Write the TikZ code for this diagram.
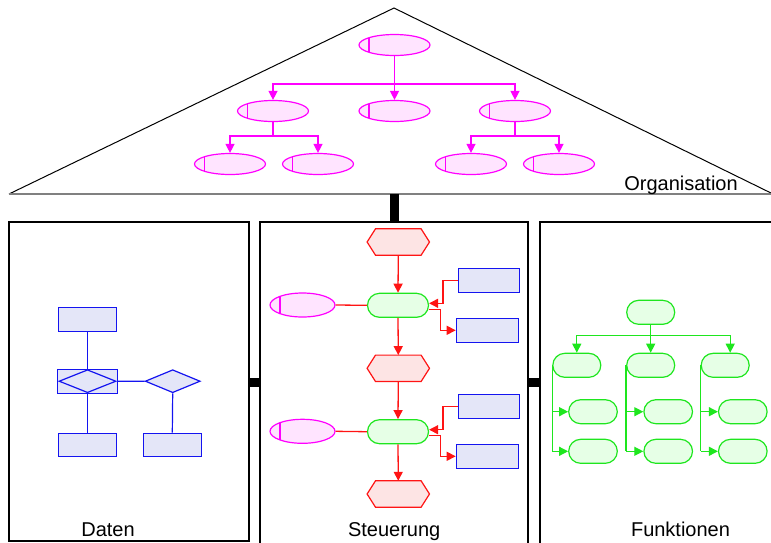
\documentclass[tikz,border=0pt]{standalone}
\usepackage{fontspec}
\setmainfont{Liberation Sans}
\usetikzlibrary{arrows.meta,shapes.geometric}
\definecolor{mag}{RGB}{255,0,255}
\definecolor{magfill}{RGB}{255,228,255}
\definecolor{bl}{RGB}{20,20,240}
\definecolor{blfill}{RGB}{228,230,248}
\definecolor{rd}{RGB}{255,20,20}
\definecolor{rdfill}{RGB}{253,228,228}
\definecolor{gr}{RGB}{30,230,30}
\definecolor{grfill}{RGB}{230,255,230}
\newcommand{\lab}{\fontsize{20pt}{24pt}\selectfont}
\begin{document}
\begin{tikzpicture}[x=1pt,y=-1pt,
  orgell/.style={ellipse, draw=mag, fill=magfill, line width=1.2pt, minimum width=71pt, minimum height=21pt, inner sep=0pt,
    path picture={\draw[mag,line width=1.4pt] ([xshift=10pt]path picture bounding box.north west) -- ([xshift=10pt]path picture bounding box.south west);}},
  orgline/.style={mag, line width=1.3pt},
  orgarr/.style={orgline, -{Triangle[length=9pt,width=9pt]}},
  datbox/.style={rectangle, draw=bl, fill=blfill, line width=1.2pt, minimum width=58pt, minimum height=24pt, inner sep=0pt},
  datdia/.style={diamond, draw=bl, fill=blfill, line width=1.2pt, minimum width=57pt, minimum height=23pt, inner sep=0pt},
  datline/.style={bl, line width=1.2pt},
  hexnode/.style={rectangle, minimum width=62pt, minimum height=26pt, inner sep=0pt},
  hexst/.style={draw=rd, fill=rdfill, line width=1.2pt},
  grbox/.style={rectangle, rounded corners=12pt, draw=gr, fill=grfill, line width=1.2pt, minimum width=48pt, minimum height=24pt, inner sep=0pt},
  rline/.style={rd, line width=1.3pt},
  rarr/.style={rline, -{Triangle[length=9pt,width=9pt]}},
  gline/.style={gr, line width=1.3pt},
  garr/.style={gline, -{Triangle[length=9pt,width=9pt]}},
  frame/.style={black, line width=1.5pt},
  lbl/.style={anchor=base, font=\lab, inner sep=0pt}]
\useasboundingbox (0,0) rectangle (771,542);
\clip (0,0) rectangle (771,542);

% ---------- Organisation triangle ----------
\draw[black, line width=1pt] (9,194) -- (394,8) -- (773,194);
\draw[gray, line width=2pt] (9,194) -- (773,194);
\node[lbl] (lorg) at (681,190) {Organisation};

\node[orgell] (o1) at (394.5,45) {};
\node[orgell] (o2a) at (273,111) {};
\node[orgell] (o2b) at (394.5,111) {};
\node[orgell] (o2c) at (515,111) {};
\node[orgell] (o3a) at (230,164) {};
\node[orgell] (o3b) at (318,164) {};
\node[orgell] (o3c) at (471,164) {};
\node[orgell] (o3d) at (559,164) {};

\coordinate (j1) at (394.5,84);
\draw[orgline] (o1.south) -- (j1);
\draw[orgarr] (j1) -| (o2a.north);
\draw[orgarr] (j1) -- (o2b.north);
\draw[orgarr] (j1) -| (o2c.north);
\coordinate (j2) at (273,136);
\draw[orgline] (o2a.south) -- (j2);
\draw[orgarr] (j2) -| (o3a.north);
\draw[orgarr] (j2) -| (o3b.north);
\coordinate (j3) at (515,136);
\draw[orgline] (o2c.south) -- (j3);
\draw[orgarr] (j3) -| (o3c.north);
\draw[orgarr] (j3) -| (o3d.north);

% ---------- frames and bars ----------
\draw[frame] (9,222) rectangle (249,541);
\draw[frame] (260,545) -- (260,222) -- (528,222) -- (528,545);
\draw[frame] (540,545) -- (540,222) -- (775,222);
\fill[black] (390,194) rectangle (399,222);
\fill[black] (249,377.5) rectangle (260,386.5);
\fill[black] (528,377.5) rectangle (540,386.5);

\node[lbl] (ldat) at (108,536.5) {Daten};
\node[lbl] (lst) at (394.2,536.5) {Steuerung};
\node[lbl] (lfn) at (680.5,536.5) {Funktionen};

% ---------- Daten ----------
\node[datbox] (d1) at (87.3,319.3) {};
\node[datbox, minimum width=60pt] (d2) at (87.3,381.3) {};
\node[datdia] (d2d) at (87.5,381.2) {};
\node[datdia, minimum width=55pt] (d3) at (172.7,381.2) {};
\node[datbox, minimum height=23pt] (d4) at (87.3,444.8) {};
\node[datbox, minimum height=23pt] (d5) at (172.3,444.8) {};
\draw[datline] (d1.south) -- (d2.north);
\draw[datline] (d2.south) -- (d4.north);
\draw[datline] (d2.east) -- (d3.west);
\draw[datline] (d3.south) -- (d5.north);

% ---------- Steuerung ----------
\node[hexnode] (h1) at (398.3,242) {};
\node[hexnode] (h2) at (398.3,368.3) {};
\node[hexnode] (h3) at (398.3,494) {};
\foreach \h in {h1,h2,h3}
  \draw[hexst] (\h.west) -- ([xshift=8.4pt]\h.north west) -- ([xshift=-8.4pt]\h.north east) -- (\h.east)
     -- ([xshift=-8.4pt]\h.south east) -- ([xshift=8.4pt]\h.south west) -- cycle;
\node[grbox, minimum width=61pt] (g1) at (398,305.3) {};
\node[grbox, minimum width=61pt] (g2) at (398,431.7) {};
\node[orgell, minimum width=65pt, minimum height=24pt] (e1) at (302.5,305) {};
\node[orgell, minimum width=65pt, minimum height=24pt] (e2) at (302.5,431.3) {};
\node[datbox, minimum width=61pt] (b1) at (488.8,280.3) {};
\node[datbox, minimum width=62pt] (b2) at (487.3,330.3) {};
\node[datbox, minimum width=61pt] (b3) at (488.8,406.3) {};
\node[datbox, minimum width=62pt] (b4) at (487.3,456.3) {};

\draw[rline] (e1.east) -- (g1.west);
\draw[rline] (e2.east) -- (g2.west);
\draw[rarr] (h1.south) -- (g1.north);
\draw[rarr] (g1.south) -- (h2.north);
\draw[rarr] (h2.south) -- (g2.north);
\draw[rarr] (g2.south) -- (h3.north);
\draw[rarr] (b1.west) -- ++(-14.6,0) |- ([yshift=2pt]g1.east);
\draw[rarr] ([yshift=-4pt]g1.east) -- ++(11.6,0) |- (b2.west);
\draw[rarr] (b3.west) -- ++(-14.6,0) |- ([yshift=2pt]g2.east);
\draw[rarr] ([yshift=-4pt]g2.east) -- ++(11.6,0) |- (b4.west);

% ---------- Funktionen ----------
\node[grbox] (f0) at (650.7,312.3) {};
\node[grbox] (f1) at (576.8,365.3) {};
\node[grbox] (f2) at (650.7,365.3) {};
\node[grbox] (f3) at (725.2,365.3) {};
\node[grbox, minimum width=48.6pt] (f11) at (593,411.7) {};
\node[grbox, minimum width=48.6pt] (f12) at (593,451.3) {};
\node[grbox, minimum width=48.6pt] (f21) at (668.2,411.7) {};
\node[grbox, minimum width=48.6pt] (f22) at (668.2,451.3) {};
\node[grbox, minimum width=48.6pt] (f31) at (742.8,411.7) {};
\node[grbox, minimum width=48.6pt] (f32) at (742.8,451.3) {};

\coordinate (fj) at (650.7,335.3);
\draw[gline] (f0.south) -- (fj);
\draw[garr] (fj) -| (f1.north);
\draw[garr] (fj) -- (f2.north);
\draw[garr] (fj) -| ([xshift=5pt]f3.north);
\foreach \p/\a/\b in {f1/f11/f12, f2/f21/f22, f3/f31/f32} {
  \draw[gline] (\p.west) -- (\p.west |- \b.west);
  \draw[garr] (\p.west |- \a.west) -- (\a.west);
  \draw[garr] (\p.west |- \b.west) -- (\b.west);
}
\end{tikzpicture}
\end{document}
